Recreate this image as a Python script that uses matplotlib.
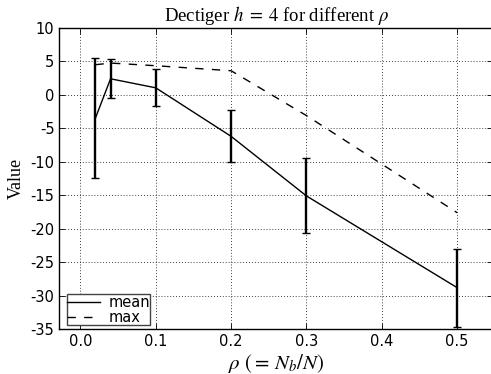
import matplotlib
matplotlib.use("Agg")
import matplotlib.pyplot as plt
from matplotlib.lines import Line2D

rho = [0.02, 0.04, 0.1, 0.2, 0.3, 0.5]
mean_vals = [-3.45, 2.4, 1.05, -6.2, -15.1, -28.8]
mean_err = [8.95, 2.9, 2.75, 3.9, 5.6, 5.85]
max_vals = [4.5, 4.75, 4.35, 3.6, -3.1, -17.6]
xticks = [0.0, 0.1, 0.2, 0.3, 0.4, 0.5]
yticks = [10, 5, 0, -5, -10, -15, -20, -25, -30, -35]

plt.rcParams['mathtext.fontset'] = 'stix'
plt.rcParams['axes.unicode_minus'] = False

fig = plt.figure(figsize=(4.91, 3.74), dpi=100)
ax = fig.add_axes([0.1208, 0.1198, 0.884, 0.8056])

ax.errorbar(rho, mean_vals, yerr=mean_err, color='black', linestyle='-', linewidth=1.0,
            elinewidth=1.7, capsize=3, capthick=1.0)
ax.plot(rho, max_vals, color='black', linestyle=(0, (6, 6)), linewidth=1.0)

ax.set_xlim(-0.028, 0.548)
ax.set_ylim(-35, 10)
ax.set_xticks(xticks)
ax.set_xticklabels(['%.1f' % t for t in xticks])
ax.set_yticks(yticks)
ax.set_yticklabels([str(t) for t in yticks])
ax.tick_params(direction='in', top=True, right=True, labelsize=10.5, length=4, width=0.6)
ax.grid(True, color='black', linestyle=(0, (1, 2.5)), linewidth=0.6)

for s in ax.spines.values():
    s.set_linewidth(1.0)

ax.set_title(r'Dectiger $h\;=\;4$ for different $\rho$', family='Liberation Serif', fontsize=13.5, pad=5)
ax.set_xlabel(r'$\rho\ (=\,N_b/N)$', fontsize=15, labelpad=2)
ax.set_ylabel('Value', family='Liberation Serif', fontsize=13, labelpad=4)

handles = [Line2D([], [], color='black', linestyle='-', linewidth=1.0),
           Line2D([], [], color='black', linestyle=(0, (6, 6)), linewidth=1.0)]
leg = ax.legend(handles, ['mean', 'max'], loc='lower left', bbox_to_anchor=(0.018, 0.014),
                fontsize=10.5, labelspacing=0.0, borderpad=0.02, handlelength=2.2,
                handletextpad=0.6, borderaxespad=0.0, fancybox=False, framealpha=1)
leg.get_frame().set_edgecolor('#444444')
leg.get_frame().set_linewidth(1.0)

fig.savefig('out.png', dpi=100)
